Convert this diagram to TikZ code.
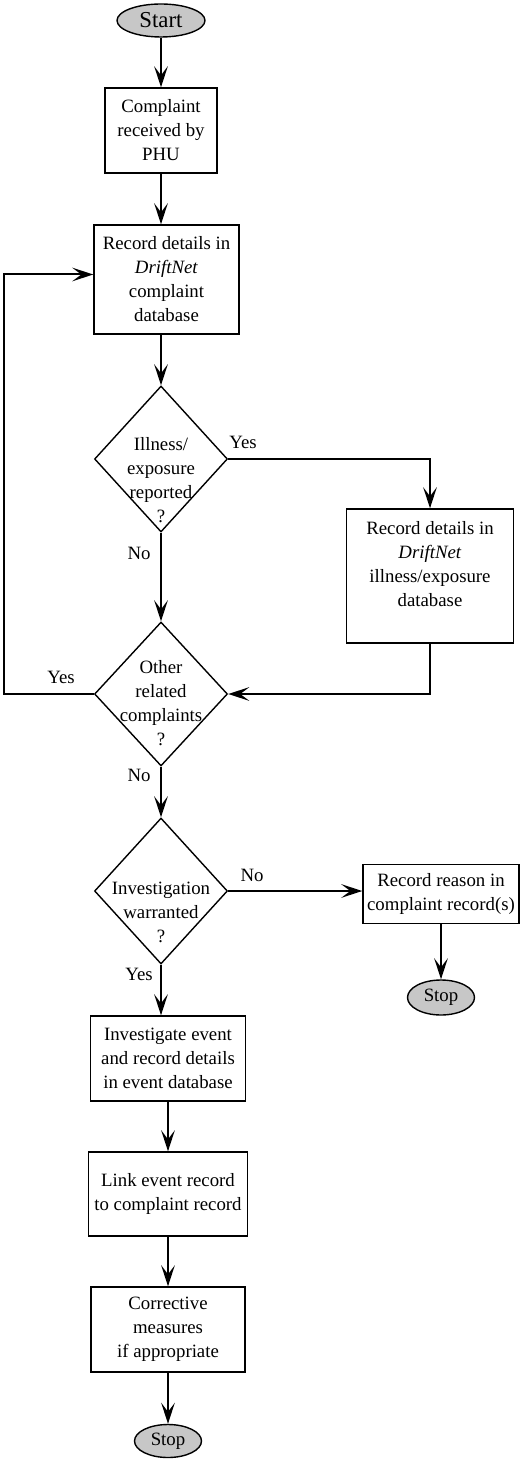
\documentclass[tikz,border=0pt]{standalone}
\usepackage{fontspec}
\setmainfont{Liberation Serif}
\usetikzlibrary{positioning,arrows.meta,calc,shapes.geometric}

\begin{document}
\begin{tikzpicture}[
  x=0.5pt, y=-0.5pt,
  font=\fontsize{9.4}{12}\selectfont,
  proc/.style={draw, line width=0.7pt, align=center, inner sep=1pt},
  term/.style={draw, ellipse, fill=black!22, line width=0.7pt, inner sep=0pt,
               minimum width=33.5pt, minimum height=17.5pt},
  decide/.style={draw, diamond, line width=0.7pt, inner sep=0pt,
                 minimum width=66.5pt, minimum height=73pt},
  qtext/.style={align=center, inner sep=0pt},
  lbl/.style={inner sep=0pt},
  arr/.style={-{Stealth[length=10.5pt, width=6.8pt, inset=4.5pt]}, line width=1pt}
]
\useasboundingbox (0,0) rectangle (520,1459);
% --- main column -------------------------------------------------------
\node[term, minimum width=44pt, minimum height=16.5pt,
      font=\fontsize{11.4}{13}\selectfont] (start) at (161,20.5) {Start};
\node[proc, minimum width=56pt, minimum height=42.5pt] (recv) at (161,130.5)
  {Complaint\\received by\\PHU};
\node[proc, minimum width=72.5pt, minimum height=54.5pt] (log) at (166.5,279.5)
  {Record details in\\\emph{DriftNet}\\complaint\\database};
\node[decide] (ill) at (161,459) {};
\node[qtext, yshift=-10.5pt] (illq) at (ill.center) {Illness/\\exposure\\reported\\?};
\node[decide, minimum height=72pt] (other) at (161,694) {};
\node[qtext, yshift=-4.5pt] (otherq) at (other.center) {Other\\related\\complaints\\?};
\node[decide] (warr) at (161,891) {};
\node[qtext, yshift=-10.5pt] (warrq) at (warr.center) {Investigation\\warranted\\?};
\node[proc, minimum width=77.5pt, minimum height=42.5pt] (inv) at (168,1058.5)
  {Investigate event\\and record details\\in event database};
\node[proc, minimum width=79.5pt, minimum height=42pt] (link) at (168,1194)
  {Link event record\\to complaint record};
\node[proc, minimum width=77pt, minimum height=42.5pt] (fix) at (168,1329.5)
  {Corrective\\measures\\if appropriate};
\node[term, minimum height=16.5pt] (stop) at (168,1441) {Stop};
% --- right side --------------------------------------------------------
\node[proc, minimum width=83.5pt, minimum height=67pt] (illdb) at (430,576)
  {Record details in\\\emph{DriftNet}\\illness/exposure\\database\\\mbox{}};
\node[proc, minimum width=78pt, minimum height=29.5pt] (why) at (441,894)
  {Record reason in\\complaint record(s)};
\node[term] (stopr) at (441,997.5) {Stop};
\coordinate (back) at (4,694);
% --- arrows ------------------------------------------------------------
\draw[arr] (start) -- (recv);
\draw[arr] (recv.south) -- (recv.south |- log.north);
\draw[arr] (ill.north |- log.south) -- (ill.north);
\draw[arr] (ill.east) -| (illdb.north);
\draw[arr] (ill.south) -- (other.north);
\draw[arr] (illdb.south) |- (other.east);
\draw[arr] (other.west) -- (back) |- ([yshift=2.5pt]log.west);
\draw[arr] (other.south) -- (warr.north);
\draw[arr] (warr.east) -- (warr.east -| why.west);
\draw[arr] (why) -- (stopr);
\draw[arr] (warr.south) -- (warr.south |- inv.north);
\draw[arr] (inv) -- (link);
\draw[arr] (link) -- (fix);
\draw[arr] (fix) -- (stop);
% --- branch labels -----------------------------------------------------
\node[lbl] (illyes) at (243,442) {Yes};
\node[lbl] (illno) at (139,553) {No};
\node[lbl] (otheryes) at (61,677) {Yes};
\node[lbl] (otherno) at (139,775) {No};
\node[lbl] (warrno) at (252,875) {No};
\node[lbl] (warryes) at (139,974) {Yes};
\end{tikzpicture}
\end{document}
